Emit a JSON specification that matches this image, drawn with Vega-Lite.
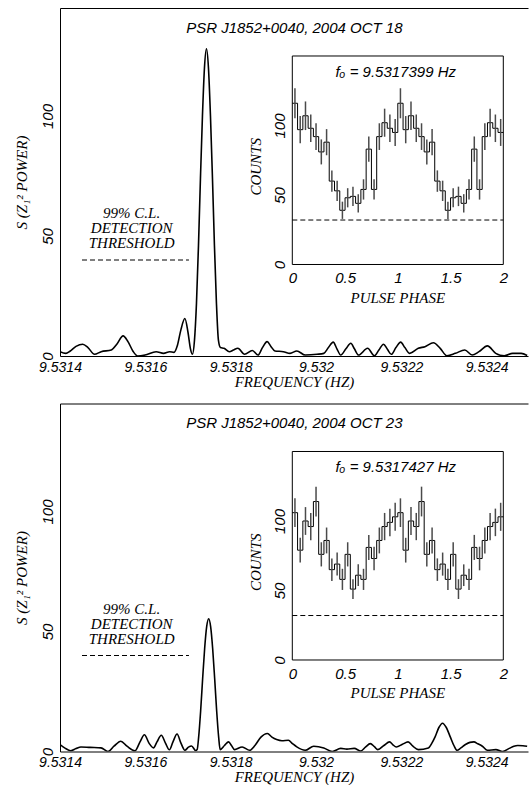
{
"$schema": "https://vega.github.io/schema/vega-lite/v6.json",
"padding": {"left": 13, "right": 0, "top": 7, "bottom": 0},
"background": "white",
"config": {
  "view": {"stroke": null},
  "axis": {"grid": false, "domainColor": "black", "domainWidth": 1, "tickColor": "black", "tickWidth": 1, "tickSize": 0,
    "labelColor": "black", "labelFont": "Liberation Sans", "labelFontStyle": "italic", "labelFontSize": 15,
    "titleFont": "Liberation Serif", "titleFontStyle": "italic", "titleFontWeight": "normal", "titleFontSize": 15, "titleColor": "black",
    "labelFlush": false, "labelOverlap": false, "labelBound": false},
  "text": {"font": "Liberation Sans", "fontStyle": "italic", "fontSize": 15, "color": "black"}
},
"datasets": {
  "curve1": [
    {"f":9.5314000,"s":1.8},{"f":9.5314136,"s":1.1},{"f":9.5314234,"s":2.0},{"f":9.5314375,"s":4.0},{"f":9.5314532,"s":4.9},
    {"f":9.5314656,"s":3.5},{"f":9.5314808,"s":0.7},{"f":9.5314965,"s":1.8},{"f":9.5315202,"s":2.5},{"f":9.5315336,"s":5.0},
    {"f":9.5315479,"s":8.4},{"f":9.5315593,"s":6.0},{"f":9.5315711,"s":2.0},{"f":9.5315821,"s":0.0},{"f":9.5315994,"s":0.4},
    {"f":9.5316254,"s":1.8},{"f":9.5316428,"s":1.1},{"f":9.5316571,"s":1.8},{"f":9.5316671,"s":1.5},{"f":9.5316753,"s":4.5},
    {"f":9.5316835,"s":11.0},{"f":9.5316927,"s":15.6},{"f":9.5316999,"s":10.0},{"f":9.5317058,"s":3.0},{"f":9.5317105,"s":0.7},
    {"f":9.5317152,"s":6.5},{"f":9.5317199,"s":22},{"f":9.5317246,"s":46},{"f":9.5317292,"s":74},{"f":9.5317339,"s":100},
    {"f":9.5317386,"s":120},{"f":9.5317433,"s":128},{"f":9.5317480,"s":120},{"f":9.5317527,"s":100},{"f":9.5317574,"s":74},
    {"f":9.5317620,"s":46},{"f":9.5317667,"s":22},{"f":9.5317714,"s":6.5},{"f":9.5317761,"s":3.5},{"f":9.5317843,"s":3.2},
    {"f":9.5317970,"s":1.8},{"f":9.5318066,"s":2.5},{"f":9.5318169,"s":3.2},{"f":9.5318326,"s":0.7},{"f":9.5318509,"s":2.3},
    {"f":9.5318642,"s":0.4},{"f":9.5318745,"s":3.5},{"f":9.5318855,"s":6.0},{"f":9.5318944,"s":4.0},{"f":9.5319038,"s":2.1},
    {"f":9.5319235,"s":1.8},{"f":9.5319392,"s":1.1},{"f":9.5319551,"s":2.1},{"f":9.5319748,"s":0.4},{"f":9.5320025,"s":0.7},
    {"f":9.5320184,"s":1.1},{"f":9.5320292,"s":3.5},{"f":9.5320404,"s":5.8},{"f":9.5320491,"s":3.0},{"f":9.5320580,"s":0.4},
    {"f":9.5320702,"s":3.0},{"f":9.5320817,"s":5.3},{"f":9.5320901,"s":3.0},{"f":9.5320997,"s":0.4},{"f":9.5321210,"s":3.2},
    {"f":9.5321370,"s":0.1},{"f":9.5321475,"s":2.5},{"f":9.5321583,"s":4.9},{"f":9.5321674,"s":2.8},{"f":9.5321766,"s":0.7},
    {"f":9.5321874,"s":3.5},{"f":9.5321986,"s":5.8},{"f":9.5322084,"s":3.5},{"f":9.5322199,"s":1.1},{"f":9.5322398,"s":3.2},
    {"f":9.5322555,"s":3.9},{"f":9.5322752,"s":5.5},{"f":9.5322912,"s":3.2},{"f":9.5323069,"s":0.1},{"f":9.5323268,"s":1.1},
    {"f":9.5323488,"s":2.5},{"f":9.5323661,"s":0.4},{"f":9.5323821,"s":1.8},{"f":9.5324018,"s":4.2},{"f":9.5324214,"s":1.1},
    {"f":9.5324414,"s":0.1},{"f":9.5324611,"s":1.1},{"f":9.5324810,"s":1.1},{"f":9.5324950,"s":0.2}
  ],
  "curve2": [
    {"f":9.5314000,"s":2.9},{"f":9.5314117,"s":1.4},{"f":9.5314253,"s":0.3},{"f":9.5314375,"s":1.2},{"f":9.5314492,"s":1.9},
    {"f":9.5314703,"s":1.7},{"f":9.5314961,"s":1.5},{"f":9.5315125,"s":0.0},{"f":9.5315265,"s":2.2},{"f":9.5315425,"s":4.3},
    {"f":9.5315570,"s":2.2},{"f":9.5315758,"s":0.3},{"f":9.5315875,"s":4.0},{"f":9.5315978,"s":7.0},{"f":9.5316086,"s":3.5},
    {"f":9.5316191,"s":1.5},{"f":9.5316273,"s":4.0},{"f":9.5316374,"s":6.8},{"f":9.5316472,"s":3.5},{"f":9.5316564,"s":0.7},
    {"f":9.5316648,"s":4.0},{"f":9.5316744,"s":7.3},{"f":9.5316835,"s":3.5},{"f":9.5316927,"s":0.5},{"f":9.5317011,"s":1.8},
    {"f":9.5317084,"s":2.3},{"f":9.5317180,"s":0.4},{"f":9.5317215,"s":0.8},{"f":9.5317250,"s":6.0},{"f":9.5317297,"s":17},
    {"f":9.5317344,"s":30.5},{"f":9.5317391,"s":43},{"f":9.5317438,"s":52},{"f":9.5317485,"s":55.3},{"f":9.5317531,"s":52},
    {"f":9.5317578,"s":43},{"f":9.5317625,"s":30.5},{"f":9.5317672,"s":17},{"f":9.5317719,"s":6.0},{"f":9.5317754,"s":0.8},
    {"f":9.5317855,"s":2.5},{"f":9.5317953,"s":4.0},{"f":9.5318019,"s":2.5},{"f":9.5318089,"s":0.8},{"f":9.5318270,"s":1.9},
    {"f":9.5318445,"s":0.5},{"f":9.5318569,"s":2.5},{"f":9.5318710,"s":6.0},{"f":9.5318862,"s":7.5},{"f":9.5318968,"s":6.0},
    {"f":9.5319078,"s":5.0},{"f":9.5319202,"s":4.5},{"f":9.5319354,"s":4.7},{"f":9.5319448,"s":3.3},{"f":9.5319551,"s":1.9},
    {"f":9.5319748,"s":0.5},{"f":9.5319947,"s":2.2},{"f":9.5320184,"s":1.5},{"f":9.5320381,"s":0.0},{"f":9.5320580,"s":1.3},
    {"f":9.5320725,"s":1.0},{"f":9.5320896,"s":1.3},{"f":9.5321053,"s":0.2},{"f":9.5321159,"s":1.8},{"f":9.5321274,"s":3.3},
    {"f":9.5321370,"s":2.0},{"f":9.5321449,"s":0.8},{"f":9.5321592,"s":2.5},{"f":9.5321726,"s":4.0},{"f":9.5321803,"s":2.8},
    {"f":9.5321883,"s":1.9},{"f":9.5322026,"s":3.0},{"f":9.5322159,"s":4.0},{"f":9.5322272,"s":2.2},{"f":9.5322398,"s":0.8},
    {"f":9.5322635,"s":1.5},{"f":9.5322717,"s":3.5},{"f":9.5322792,"s":6.1},{"f":9.5322881,"s":10.0},{"f":9.5322966,"s":11.8},
    {"f":9.5323055,"s":10.0},{"f":9.5323148,"s":6.1},{"f":9.5323233,"s":2.5},{"f":9.5323308,"s":0.5},{"f":9.5323397,"s":1.5},
    {"f":9.5323504,"s":2.9},{"f":9.5323608,"s":3.8},{"f":9.5323701,"s":4.0},{"f":9.5323795,"s":3.2},{"f":9.5323900,"s":2.2},
    {"f":9.5324018,"s":0.5},{"f":9.5324217,"s":0.8},{"f":9.5324374,"s":0.0},{"f":9.5324531,"s":1.3},{"f":9.5324639,"s":2.2},
    {"f":9.5324730,"s":2.5},{"f":9.5324850,"s":2.4},{"f":9.5324950,"s":2.2}
  ],
  "hist1": [
    {"p":0,"n":116},{"p":0.05,"n":97},{"p":0.1,"n":107},{"p":0.15,"n":98},{"p":0.2,"n":92},{"p":0.25,"n":81},{"p":0.3,"n":88},
    {"p":0.35,"n":60},{"p":0.4,"n":53},{"p":0.45,"n":39},{"p":0.5,"n":48},{"p":0.55,"n":49},{"p":0.6,"n":44},{"p":0.65,"n":54},
    {"p":0.7,"n":83},{"p":0.75,"n":54},{"p":0.8,"n":92},{"p":0.85,"n":102},{"p":0.9,"n":98},{"p":0.95,"n":95},
    {"p":1,"n":116},{"p":1.05,"n":97},{"p":1.1,"n":107},{"p":1.15,"n":98},{"p":1.2,"n":92},{"p":1.25,"n":81},{"p":1.3,"n":88},
    {"p":1.35,"n":60},{"p":1.4,"n":53},{"p":1.45,"n":39},{"p":1.5,"n":48},{"p":1.55,"n":49},{"p":1.6,"n":44},{"p":1.65,"n":54},
    {"p":1.7,"n":83},{"p":1.75,"n":54},{"p":1.8,"n":92},{"p":1.85,"n":102},{"p":1.9,"n":98},{"p":1.95,"n":95},{"p":2,"n":95}
  ],
  "err1": [
    {"c":0.025,"lo":105.2,"hi":126.8},{"c":0.075,"lo":87.2,"hi":106.8},{"c":0.125,"lo":96.7,"hi":117.3},{"c":0.175,"lo":88.1,"hi":107.9},
    {"c":0.225,"lo":82.4,"hi":101.6},{"c":0.275,"lo":72,"hi":90},{"c":0.325,"lo":78.6,"hi":97.4},{"c":0.375,"lo":52.3,"hi":67.7},
    {"c":0.425,"lo":45.7,"hi":60.3},{"c":0.475,"lo":32.8,"hi":45.2},{"c":0.525,"lo":41.1,"hi":54.9},{"c":0.575,"lo":42,"hi":56},
    {"c":0.625,"lo":37.4,"hi":50.6},{"c":0.675,"lo":46.7,"hi":61.3},{"c":0.725,"lo":73.9,"hi":92.1},{"c":0.775,"lo":46.7,"hi":61.3},
    {"c":0.825,"lo":82.4,"hi":101.6},{"c":0.875,"lo":91.9,"hi":112.1},{"c":0.925,"lo":88.1,"hi":107.9},{"c":0.975,"lo":85.3,"hi":104.7},
    {"c":1.025,"lo":105.2,"hi":126.8},{"c":1.075,"lo":87.2,"hi":106.8},{"c":1.125,"lo":96.7,"hi":117.3},{"c":1.175,"lo":88.1,"hi":107.9},
    {"c":1.225,"lo":82.4,"hi":101.6},{"c":1.275,"lo":72,"hi":90},{"c":1.325,"lo":78.6,"hi":97.4},{"c":1.375,"lo":52.3,"hi":67.7},
    {"c":1.425,"lo":45.7,"hi":60.3},{"c":1.475,"lo":32.8,"hi":45.2},{"c":1.525,"lo":41.1,"hi":54.9},{"c":1.575,"lo":42,"hi":56},
    {"c":1.625,"lo":37.4,"hi":50.6},{"c":1.675,"lo":46.7,"hi":61.3},{"c":1.725,"lo":73.9,"hi":92.1},{"c":1.775,"lo":46.7,"hi":61.3},
    {"c":1.825,"lo":82.4,"hi":101.6},{"c":1.875,"lo":91.9,"hi":112.1},{"c":1.925,"lo":88.1,"hi":107.9},{"c":1.975,"lo":85.3,"hi":104.7}
  ],
  "hist2": [
    {"p":0,"n":106},{"p":0.05,"n":79},{"p":0.1,"n":100},{"p":0.15,"n":96},{"p":0.2,"n":114},{"p":0.25,"n":76},{"p":0.3,"n":86},
    {"p":0.35,"n":65},{"p":0.4,"n":69},{"p":0.45,"n":58},{"p":0.5,"n":76},{"p":0.55,"n":51},{"p":0.6,"n":61},{"p":0.65,"n":58},
    {"p":0.7,"n":81},{"p":0.75,"n":73},{"p":0.8,"n":86},{"p":0.85,"n":96},{"p":0.9,"n":99},{"p":0.95,"n":103},
    {"p":1,"n":106},{"p":1.05,"n":79},{"p":1.1,"n":100},{"p":1.15,"n":96},{"p":1.2,"n":114},{"p":1.25,"n":76},{"p":1.3,"n":86},
    {"p":1.35,"n":65},{"p":1.4,"n":69},{"p":1.45,"n":58},{"p":1.5,"n":76},{"p":1.55,"n":51},{"p":1.6,"n":61},{"p":1.65,"n":58},
    {"p":1.7,"n":81},{"p":1.75,"n":73},{"p":1.8,"n":86},{"p":1.85,"n":96},{"p":1.9,"n":99},{"p":1.95,"n":103},{"p":2,"n":103}
  ],
  "err2": [
    {"c":0.025,"lo":95.7,"hi":116.3},{"c":0.075,"lo":70.1,"hi":87.9},{"c":0.125,"lo":90,"hi":110},{"c":0.175,"lo":86.2,"hi":105.8},
    {"c":0.225,"lo":103.3,"hi":124.7},{"c":0.275,"lo":67.3,"hi":84.7},{"c":0.325,"lo":76.7,"hi":95.3},{"c":0.375,"lo":56.9,"hi":73.1},
    {"c":0.425,"lo":60.7,"hi":77.3},{"c":0.475,"lo":50.4,"hi":65.6},{"c":0.525,"lo":67.3,"hi":84.7},{"c":0.575,"lo":43.9,"hi":58.1},
    {"c":0.625,"lo":53.2,"hi":68.8},{"c":0.675,"lo":50.4,"hi":65.6},{"c":0.725,"lo":72,"hi":90},{"c":0.775,"lo":64.5,"hi":81.5},
    {"c":0.825,"lo":76.7,"hi":95.3},{"c":0.875,"lo":86.2,"hi":105.8},{"c":0.925,"lo":89.1,"hi":108.9},{"c":0.975,"lo":92.9,"hi":113.1},
    {"c":1.025,"lo":95.7,"hi":116.3},{"c":1.075,"lo":70.1,"hi":87.9},{"c":1.125,"lo":90,"hi":110},{"c":1.175,"lo":86.2,"hi":105.8},
    {"c":1.225,"lo":103.3,"hi":124.7},{"c":1.275,"lo":67.3,"hi":84.7},{"c":1.325,"lo":76.7,"hi":95.3},{"c":1.375,"lo":56.9,"hi":73.1},
    {"c":1.425,"lo":60.7,"hi":77.3},{"c":1.475,"lo":50.4,"hi":65.6},{"c":1.525,"lo":67.3,"hi":84.7},{"c":1.575,"lo":43.9,"hi":58.1},
    {"c":1.625,"lo":53.2,"hi":68.8},{"c":1.675,"lo":50.4,"hi":65.6},{"c":1.725,"lo":72,"hi":90},{"c":1.775,"lo":64.5,"hi":81.5},
    {"c":1.825,"lo":76.7,"hi":95.3},{"c":1.875,"lo":86.2,"hi":105.8},{"c":1.925,"lo":89.1,"hi":108.9},{"c":1.975,"lo":92.9,"hi":113.1}
  ]
},
"spacing": 47.5,
"bounds": "flush",
"vconcat": [
 {
  "width": 468, "height": 348,
  "resolve": {"scale": {"x": "independent", "y": "independent"}},
  "layer": [
   {
    "resolve": {"axis": {"x": "independent", "y": "independent"}},
    "layer": [
     {
      "data": {"name": "curve1"},
      "mark": {"type": "line", "color": "black", "strokeWidth": 1.6, "interpolate": "monotone", "clip": true},
      "encoding": {
        "x": {"field": "f", "type": "quantitative", "scale": {"domain": [9.5314, 9.532497], "nice": false, "zero": false},
          "axis": {"orient": "bottom", "values": [9.5314,9.5315,9.5316,9.5317,9.5318,9.5319,9.532,9.5321,9.5322,9.5323,9.5324],
            "labelExpr": "round(datum.value*10000) % 2 == 0 ? format(datum.value, '.4~f') : ''",
            "title": "FREQUENCY (HZ)", "labelPadding": 4, "labelFontSize": 14, "titlePadding": 0,
            "encode": {"ticks": {"update": {"y2": {"signal": "round(datum.value*10000) % 2 == 0 ? -6 : -3"}}}}}},
        "y": {"field": "s", "type": "quantitative", "scale": {"domain": [0, 145], "nice": false, "zero": false},
          "axis": {"orient": "left", "values": [0,10,20,30,40,50,60,70,80,90,100,110,120,130,140],
            "labelExpr": "datum.value % 50 == 0 ? datum.label : ''", "labelAngle": -90, "labelAlign": "center", "labelBaseline": "bottom",
            "labelPadding": 5, "title": "S (Z₁² POWER)", "titlePadding": 11,
            "encode": {"ticks": {"update": {"x2": {"signal": "datum.value % 50 == 0 ? 6 : 3"}}}}}}
      }
     },
     {
      "data": {"values": [{"f1": 9.5314516, "f2": 9.5317023, "s": 40}]},
      "mark": {"type": "rule", "color": "black", "strokeWidth": 1, "strokeDash": [5, 3]},
      "encoding": {
        "x": {"field": "f1", "type": "quantitative", "scale": {"domain": [9.5314, 9.532497], "nice": false, "zero": false},
          "axis": {"orient": "top", "values": [9.5314,9.5315,9.5316,9.5317,9.5318,9.5319,9.532,9.5321,9.5322,9.5323,9.5324],
            "labels": false, "title": null,
            "encode": {"ticks": {"update": {"y2": {"signal": "round(datum.value*10000) % 2 == 0 ? 6 : 3"}}}}}},
        "x2": {"field": "f2"},
        "y": {"field": "s", "type": "quantitative", "scale": {"domain": [0, 145], "nice": false, "zero": false},
          "axis": {"orient": "right", "values": [0,10,20,30,40,50,60,70,80,90,100,110,120,130,140],
            "labels": false, "title": null, "domain": false,
            "encode": {"ticks": {"update": {"x2": {"signal": "datum.value % 50 == 0 ? -6 : -3"}}}}}}
      }
     },
     {
      "data": {"values": [{"t": ["99% C.L.", "DETECTION", "THRESHOLD"]}]},
      "mark": {"type": "text", "font": "Liberation Serif", "fontStyle": "italic", "fontSize": 15, "lineHeight": 15, "align": "center", "baseline": "middle"},
      "encoding": {
        "x": {"datum": 9.531568, "type": "quantitative", "scale": {"domain": [9.5314, 9.532497], "nice": false, "zero": false}, "axis": null},
        "y": {"datum": 59.5, "type": "quantitative", "scale": {"domain": [0, 145], "nice": false, "zero": false}, "axis": null},
        "text": {"field": "t", "type": "nominal"}
      }
     },
     {
      "data": {"values": [{"t": "PSR J1852+0040, 2004 OCT 18"}]},
      "mark": {"type": "text", "align": "center", "baseline": "middle"},
      "encoding": {
        "x": {"datum": 9.5319493, "type": "quantitative", "scale": {"domain": [9.5314, 9.532497], "nice": false, "zero": false}, "axis": null},
        "y": {"datum": 136.7, "type": "quantitative", "scale": {"domain": [0, 145], "nice": false, "zero": false}, "axis": null},
        "text": {"field": "t", "type": "nominal"}
      }
     }
    ]
   },
   {
    "resolve": {"axis": {"x": "independent", "y": "independent"}},
    "layer": [
     {
      "data": {"values": [{"a": 0, "b": 2, "c": 0, "d": 150}]},
      "mark": {"type": "rect", "fill": "transparent", "stroke": "black", "strokeWidth": 1},
      "encoding": {
        "x": {"field": "a", "type": "quantitative", "scale": {"domain": [-2.2019, 2.2341], "nice": false, "zero": false},
          "axis": {"orient": "bottom", "offset": -91.5, "values": [0,0.1,0.2,0.3,0.4,0.5,0.6,0.7,0.8,0.9,1,1.1,1.2,1.3,1.4,1.5,1.6,1.7,1.8,1.9,2],
            "labelExpr": "round(datum.value*10) % 5 == 0 ? format(datum.value, '~g') : ''", "domain": false, "title": null, "labelPadding": 6,
            "encode": {"ticks": {"update": {"y2": {"signal": "round(datum.value*10) % 5 == 0 ? -6 : -3"}}}}}},
        "x2": {"field": "b"},
        "y": {"field": "c", "type": "quantitative", "scale": {"domain": [-65.83, 184.53], "nice": false, "zero": false},
          "axis": {"orient": "left", "offset": -232.3, "values": [0,10,20,30,40,50,60,70,80,90,100,110,120,130,140,150],
            "labelExpr": "datum.value % 50 == 0 && datum.value < 150 ? datum.label : ''", "labelAngle": -90, "labelAlign": "center", "labelBaseline": "bottom",
            "labelPadding": 5, "domain": false, "title": null,
            "encode": {"ticks": {"update": {"x2": {"signal": "datum.value % 50 == 0 ? 6 : 3"}}}}}},
        "y2": {"field": "d"}
      }
     },
     {
      "data": {"values": [{"a": 0, "b": 2, "n": 32}]},
      "mark": {"type": "rule", "color": "black", "strokeWidth": 1, "strokeDash": [5, 3]},
      "encoding": {
        "x": {"field": "a", "type": "quantitative", "scale": {"domain": [-2.2019, 2.2341], "nice": false, "zero": false},
          "axis": {"orient": "top", "offset": -48, "values": [0,0.1,0.2,0.3,0.4,0.5,0.6,0.7,0.8,0.9,1,1.1,1.2,1.3,1.4,1.5,1.6,1.7,1.8,1.9,2],
            "labels": false, "domain": false, "title": null,
            "encode": {"ticks": {"update": {"y2": {"signal": "round(datum.value*10) % 5 == 0 ? 6 : 3"}}}}}},
        "x2": {"field": "b"},
        "y": {"field": "n", "type": "quantitative", "scale": {"domain": [-65.83, 184.53], "nice": false, "zero": false},
          "axis": {"orient": "right", "offset": -24.7, "values": [0,10,20,30,40,50,60,70,80,90,100,110,120,130,140,150],
            "labels": false, "domain": false, "title": null,
            "encode": {"ticks": {"update": {"x2": {"signal": "datum.value % 50 == 0 ? -6 : -3"}}}}}}
      }
     },
     {
      "data": {"name": "hist1"},
      "mark": {"type": "line", "color": "black", "strokeWidth": 1, "interpolate": "step-after"},
      "encoding": {
        "x": {"field": "p", "type": "quantitative", "scale": {"domain": [-2.2019, 2.2341], "nice": false, "zero": false}, "axis": null},
        "y": {"field": "n", "type": "quantitative", "scale": {"domain": [-65.83, 184.53], "nice": false, "zero": false}, "axis": null}
      }
     },
     {
      "data": {"name": "err1"},
      "mark": {"type": "rule", "color": "#4a4a4a", "strokeWidth": 1.5},
      "encoding": {
        "x": {"field": "c", "type": "quantitative", "scale": {"domain": [-2.2019, 2.2341], "nice": false, "zero": false}, "axis": null},
        "y": {"field": "lo", "type": "quantitative", "scale": {"domain": [-65.83, 184.53], "nice": false, "zero": false}, "axis": null},
        "y2": {"field": "hi"}
      }
     },
     {
      "data": {"values": [{"t": "fₒ = 9.5317399 Hz"}]},
      "mark": {"type": "text", "align": "center", "baseline": "middle"},
      "encoding": {
        "x": {"datum": 0.98, "type": "quantitative", "scale": {"domain": [-2.2019, 2.2341], "nice": false, "zero": false}, "axis": null},
        "y": {"datum": 138.5, "type": "quantitative", "scale": {"domain": [-65.83, 184.53], "nice": false, "zero": false}, "axis": null},
        "text": {"field": "t", "type": "nominal"}
      }
     },
     {
      "data": {"values": [{"t": "PULSE PHASE"}]},
      "mark": {"type": "text", "font": "Liberation Serif", "fontStyle": "italic", "fontSize": 15, "align": "center", "baseline": "middle"},
      "encoding": {
        "x": {"datum": 1, "type": "quantitative", "scale": {"domain": [-2.2019, 2.2341], "nice": false, "zero": false}, "axis": null},
        "y": {"datum": -23.8, "type": "quantitative", "scale": {"domain": [-65.83, 184.53], "nice": false, "zero": false}, "axis": null},
        "text": {"field": "t", "type": "nominal"}
      }
     },
     {
      "data": {"values": [{"t": "COUNTS"}]},
      "mark": {"type": "text", "font": "Liberation Serif", "fontStyle": "italic", "fontSize": 15, "align": "center", "baseline": "middle", "angle": 270},
      "encoding": {
        "x": {"datum": -0.34, "type": "quantitative", "scale": {"domain": [-2.2019, 2.2341], "nice": false, "zero": false}, "axis": null},
        "y": {"datum": 70.3, "type": "quantitative", "scale": {"domain": [-65.83, 184.53], "nice": false, "zero": false}, "axis": null},
        "text": {"field": "t", "type": "nominal"}
      }
     }
    ]
   }
  ]
 },
 {
  "width": 468, "height": 348,
  "resolve": {"scale": {"x": "independent", "y": "independent"}},
  "layer": [
   {
    "resolve": {"axis": {"x": "independent", "y": "independent"}},
    "layer": [
     {
      "data": {"name": "curve2"},
      "mark": {"type": "line", "color": "black", "strokeWidth": 1.6, "interpolate": "monotone", "clip": true},
      "encoding": {
        "x": {"field": "f", "type": "quantitative", "scale": {"domain": [9.5314, 9.532497], "nice": false, "zero": false},
          "axis": {"orient": "bottom", "values": [9.5314,9.5315,9.5316,9.5317,9.5318,9.5319,9.532,9.5321,9.5322,9.5323,9.5324],
            "labelExpr": "round(datum.value*10000) % 2 == 0 ? format(datum.value, '.4~f') : ''",
            "title": "FREQUENCY (HZ)", "labelPadding": 4, "labelFontSize": 14, "titlePadding": 0,
            "encode": {"ticks": {"update": {"y2": {"signal": "round(datum.value*10000) % 2 == 0 ? -6 : -3"}}}}}},
        "y": {"field": "s", "type": "quantitative", "scale": {"domain": [0, 145], "nice": false, "zero": false},
          "axis": {"orient": "left", "values": [0,10,20,30,40,50,60,70,80,90,100,110,120,130,140],
            "labelExpr": "datum.value % 50 == 0 ? datum.label : ''", "labelAngle": -90, "labelAlign": "center", "labelBaseline": "bottom",
            "labelPadding": 5, "title": "S (Z₁² POWER)", "titlePadding": 11,
            "encode": {"ticks": {"update": {"x2": {"signal": "datum.value % 50 == 0 ? 6 : 3"}}}}}}
      }
     },
     {
      "data": {"values": [{"f1": 9.5314516, "f2": 9.5317023, "s": 40}]},
      "mark": {"type": "rule", "color": "black", "strokeWidth": 1, "strokeDash": [5, 3]},
      "encoding": {
        "x": {"field": "f1", "type": "quantitative", "scale": {"domain": [9.5314, 9.532497], "nice": false, "zero": false},
          "axis": {"orient": "top", "values": [9.5314,9.5315,9.5316,9.5317,9.5318,9.5319,9.532,9.5321,9.5322,9.5323,9.5324],
            "labels": false, "title": null,
            "encode": {"ticks": {"update": {"y2": {"signal": "round(datum.value*10000) % 2 == 0 ? 6 : 3"}}}}}},
        "x2": {"field": "f2"},
        "y": {"field": "s", "type": "quantitative", "scale": {"domain": [0, 145], "nice": false, "zero": false},
          "axis": {"orient": "right", "values": [0,10,20,30,40,50,60,70,80,90,100,110,120,130,140],
            "labels": false, "title": null, "domain": false,
            "encode": {"ticks": {"update": {"x2": {"signal": "datum.value % 50 == 0 ? -6 : -3"}}}}}}
      }
     },
     {
      "data": {"values": [{"t": ["99% C.L.", "DETECTION", "THRESHOLD"]}]},
      "mark": {"type": "text", "font": "Liberation Serif", "fontStyle": "italic", "fontSize": 15, "lineHeight": 15, "align": "center", "baseline": "middle"},
      "encoding": {
        "x": {"datum": 9.531568, "type": "quantitative", "scale": {"domain": [9.5314, 9.532497], "nice": false, "zero": false}, "axis": null},
        "y": {"datum": 59.5, "type": "quantitative", "scale": {"domain": [0, 145], "nice": false, "zero": false}, "axis": null},
        "text": {"field": "t", "type": "nominal"}
      }
     },
     {
      "data": {"values": [{"t": "PSR J1852+0040, 2004 OCT 23"}]},
      "mark": {"type": "text", "align": "center", "baseline": "middle"},
      "encoding": {
        "x": {"datum": 9.5319493, "type": "quantitative", "scale": {"domain": [9.5314, 9.532497], "nice": false, "zero": false}, "axis": null},
        "y": {"datum": 136.7, "type": "quantitative", "scale": {"domain": [0, 145], "nice": false, "zero": false}, "axis": null},
        "text": {"field": "t", "type": "nominal"}
      }
     }
    ]
   },
   {
    "resolve": {"axis": {"x": "independent", "y": "independent"}},
    "layer": [
     {
      "data": {"values": [{"a": 0, "b": 2, "c": 0, "d": 150}]},
      "mark": {"type": "rect", "fill": "transparent", "stroke": "black", "strokeWidth": 1},
      "encoding": {
        "x": {"field": "a", "type": "quantitative", "scale": {"domain": [-2.2019, 2.2341], "nice": false, "zero": false},
          "axis": {"orient": "bottom", "offset": -91.5, "values": [0,0.1,0.2,0.3,0.4,0.5,0.6,0.7,0.8,0.9,1,1.1,1.2,1.3,1.4,1.5,1.6,1.7,1.8,1.9,2],
            "labelExpr": "round(datum.value*10) % 5 == 0 ? format(datum.value, '~g') : ''", "domain": false, "title": null, "labelPadding": 6,
            "encode": {"ticks": {"update": {"y2": {"signal": "round(datum.value*10) % 5 == 0 ? -6 : -3"}}}}}},
        "x2": {"field": "b"},
        "y": {"field": "c", "type": "quantitative", "scale": {"domain": [-65.83, 184.53], "nice": false, "zero": false},
          "axis": {"orient": "left", "offset": -232.3, "values": [0,10,20,30,40,50,60,70,80,90,100,110,120,130,140,150],
            "labelExpr": "datum.value % 50 == 0 && datum.value < 150 ? datum.label : ''", "labelAngle": -90, "labelAlign": "center", "labelBaseline": "bottom",
            "labelPadding": 5, "domain": false, "title": null,
            "encode": {"ticks": {"update": {"x2": {"signal": "datum.value % 50 == 0 ? 6 : 3"}}}}}},
        "y2": {"field": "d"}
      }
     },
     {
      "data": {"values": [{"a": 0, "b": 2, "n": 32}]},
      "mark": {"type": "rule", "color": "black", "strokeWidth": 1, "strokeDash": [5, 3]},
      "encoding": {
        "x": {"field": "a", "type": "quantitative", "scale": {"domain": [-2.2019, 2.2341], "nice": false, "zero": false},
          "axis": {"orient": "top", "offset": -48, "values": [0,0.1,0.2,0.3,0.4,0.5,0.6,0.7,0.8,0.9,1,1.1,1.2,1.3,1.4,1.5,1.6,1.7,1.8,1.9,2],
            "labels": false, "domain": false, "title": null,
            "encode": {"ticks": {"update": {"y2": {"signal": "round(datum.value*10) % 5 == 0 ? 6 : 3"}}}}}},
        "x2": {"field": "b"},
        "y": {"field": "n", "type": "quantitative", "scale": {"domain": [-65.83, 184.53], "nice": false, "zero": false},
          "axis": {"orient": "right", "offset": -24.7, "values": [0,10,20,30,40,50,60,70,80,90,100,110,120,130,140,150],
            "labels": false, "domain": false, "title": null,
            "encode": {"ticks": {"update": {"x2": {"signal": "datum.value % 50 == 0 ? -6 : -3"}}}}}}
      }
     },
     {
      "data": {"name": "hist2"},
      "mark": {"type": "line", "color": "black", "strokeWidth": 1, "interpolate": "step-after"},
      "encoding": {
        "x": {"field": "p", "type": "quantitative", "scale": {"domain": [-2.2019, 2.2341], "nice": false, "zero": false}, "axis": null},
        "y": {"field": "n", "type": "quantitative", "scale": {"domain": [-65.83, 184.53], "nice": false, "zero": false}, "axis": null}
      }
     },
     {
      "data": {"name": "err2"},
      "mark": {"type": "rule", "color": "#4a4a4a", "strokeWidth": 1.5},
      "encoding": {
        "x": {"field": "c", "type": "quantitative", "scale": {"domain": [-2.2019, 2.2341], "nice": false, "zero": false}, "axis": null},
        "y": {"field": "lo", "type": "quantitative", "scale": {"domain": [-65.83, 184.53], "nice": false, "zero": false}, "axis": null},
        "y2": {"field": "hi"}
      }
     },
     {
      "data": {"values": [{"t": "fₒ = 9.5317427 Hz"}]},
      "mark": {"type": "text", "align": "center", "baseline": "middle"},
      "encoding": {
        "x": {"datum": 0.98, "type": "quantitative", "scale": {"domain": [-2.2019, 2.2341], "nice": false, "zero": false}, "axis": null},
        "y": {"datum": 138.5, "type": "quantitative", "scale": {"domain": [-65.83, 184.53], "nice": false, "zero": false}, "axis": null},
        "text": {"field": "t", "type": "nominal"}
      }
     },
     {
      "data": {"values": [{"t": "PULSE PHASE"}]},
      "mark": {"type": "text", "font": "Liberation Serif", "fontStyle": "italic", "fontSize": 15, "align": "center", "baseline": "middle"},
      "encoding": {
        "x": {"datum": 1, "type": "quantitative", "scale": {"domain": [-2.2019, 2.2341], "nice": false, "zero": false}, "axis": null},
        "y": {"datum": -23.8, "type": "quantitative", "scale": {"domain": [-65.83, 184.53], "nice": false, "zero": false}, "axis": null},
        "text": {"field": "t", "type": "nominal"}
      }
     },
     {
      "data": {"values": [{"t": "COUNTS"}]},
      "mark": {"type": "text", "font": "Liberation Serif", "fontStyle": "italic", "fontSize": 15, "align": "center", "baseline": "middle", "angle": 270},
      "encoding": {
        "x": {"datum": -0.34, "type": "quantitative", "scale": {"domain": [-2.2019, 2.2341], "nice": false, "zero": false}, "axis": null},
        "y": {"datum": 70.3, "type": "quantitative", "scale": {"domain": [-65.83, 184.53], "nice": false, "zero": false}, "axis": null},
        "text": {"field": "t", "type": "nominal"}
      }
     }
    ]
   }
  ]
 }
]
}
